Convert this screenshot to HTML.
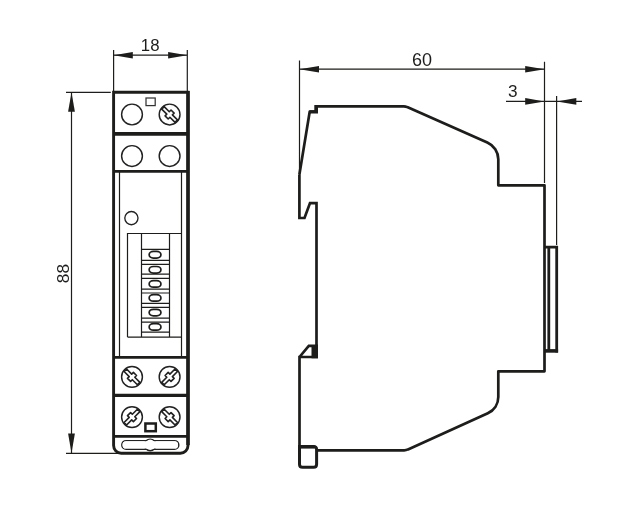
<!DOCTYPE html>
<html>
<head>
<meta charset="utf-8">
<title>Dimensions</title>
<style>
html,body{margin:0;padding:0;background:#fff;}
body{width:634px;height:528px;overflow:hidden;font-family:"Liberation Sans",sans-serif;}
svg{display:block;}
text{font-family:"Liberation Sans",sans-serif;font-size:18px;fill:#1d1d1b;}
svg{will-change:transform;}
.k{stroke:#1d1d1b;fill:none;}
.t{stroke:#1d1d1b;stroke-width:1.2;fill:none;}
.m{stroke:#222;stroke-width:1.45;fill:none;}
.a{fill:#1d1d1b;stroke:none;}
</style>
</head>
<body>
<svg width="634" height="528" viewBox="0 0 634 528">
<defs>
  <g id="screw">
    <circle r="10.4" class="m"/>
    <path class="m" style="stroke-width:1.6;stroke-linejoin:round" d="M-9.4,-1.75 L-2.2,-1.75 L-2.2,-4.2 L2.2,-4.2 L2.2,-1.75 L9.4,-1.75 L9.4,1.75 L2.2,1.75 L2.2,4.2 L-2.2,4.2 L-2.2,1.75 L-9.4,1.75 Z" transform="rotate(45)"/>
  </g>
  <g id="screw2">
    <circle r="10.4" class="m"/>
    <path class="m" style="stroke-width:1.6;stroke-linejoin:round" d="M-9.4,-1.75 L-2.2,-1.75 L-2.2,-4.2 L2.2,-4.2 L2.2,-1.75 L9.4,-1.75 L9.4,1.75 L2.2,1.75 L2.2,4.2 L-2.2,4.2 L-2.2,1.75 L-9.4,1.75 Z" transform="rotate(-45)"/>
  </g>
</defs>
<rect width="634" height="528" fill="#fff"/>

<!-- ===== FRONT VIEW ===== -->
<!-- outer body -->
<path class="k" stroke-width="2.9" d="M113.6,92.3 H188 V445.6 A7.6,7.6 0 0 1 180.4,453.2 H121.2 A7.6,7.6 0 0 1 113.6,445.6 Z"/>
<path class="k" stroke-width="3.5" d="M188,91 V445"/>
<!-- dividers -->
<path class="k" stroke-width="3.6" d="M113.6,133.9 H188"/>
<path class="k" stroke-width="2.8" d="M113.6,171.4 H188"/>
<path class="k" stroke-width="2.8" d="M113.6,357.3 H188"/>
<path class="k" stroke-width="3.2" d="M113.6,395.3 H188"/>
<path class="k" stroke-width="2.7" d="M113.6,436.4 H188"/>
<!-- inner thin lines -->
<path class="t" d="M119.5,172 V357 M181.5,172 V357"/>
<!-- top terminals -->
<circle cx="132" cy="114.5" r="10.4" class="m"/>
<use href="#screw" x="169.6" y="114.5"/>
<rect x="146" y="98" width="9.2" height="7.6" class="m" style="stroke-width:1.25;stroke:#333"/>
<circle cx="132" cy="156" r="10.4" class="m"/>
<circle cx="169.6" cy="156" r="10.4" class="m"/>
<!-- small circle -->
<circle cx="131.4" cy="218.1" r="6.6" class="m" style="stroke-width:1.35"/>
<!-- DIP switch -->
<path class="t" d="M127.5,337.1 V233.5 H181.5 M127.5,337.1 H181.5 M141.5,233.5 V337.1 M169.5,233.5 V337.1"/>
<g class="t">
<path d="M141.5,249.4 H169.5 M141.5,260.4 H169.5"/>
<path d="M141.5,264.4 H169.5 M141.5,274.2 H169.5"/>
<path d="M141.5,278.4 H169.5 M141.5,289.2 H169.5"/>
<path d="M141.5,293.0 H169.5 M141.5,303.3 H169.5"/>
<path d="M141.5,307.4 H169.5 M141.5,318.1 H169.5"/>
<path d="M141.5,322.2 H169.5 M141.5,332.1 H169.5"/>
</g>
<g class="k" stroke-width="1.7">
<rect x="149.15" y="251.45" width="11.8" height="6.6" rx="4.2" ry="3.3"/>
<rect x="149.15" y="266.50" width="11.8" height="6.6" rx="4.2" ry="3.3"/>
<rect x="149.15" y="280.60" width="11.8" height="6.6" rx="4.2" ry="3.3"/>
<rect x="149.15" y="294.60" width="11.8" height="6.6" rx="4.2" ry="3.3"/>
<rect x="149.15" y="309.30" width="11.8" height="6.6" rx="4.2" ry="3.3"/>
<rect x="149.15" y="323.60" width="11.8" height="6.6" rx="4.2" ry="3.3"/>
</g>
<!-- bottom terminals -->
<use href="#screw" x="132" y="376.9"/>
<use href="#screw2" x="169.6" y="376.9"/>
<use href="#screw2" x="132" y="417.1"/>
<use href="#screw" x="169.6" y="417.1"/>
<rect x="145.4" y="423.5" width="10.4" height="7.7" class="k" stroke-width="2.5"/>
<!-- bottom slot -->
<rect x="121.8" y="440.6" width="57" height="8.7" rx="4.35" ry="4.35" class="m" style="stroke-width:1.45"/>
<circle cx="150.2" cy="444.9" r="5.8" class="m" style="stroke-width:1.45"/>
<rect x="122.5" y="441.3" width="55.6" height="7.3" rx="3.65" ry="3.65" fill="#fff"/>
<circle cx="150.2" cy="444.9" r="5.1" fill="#fff"/>

<!-- dim 18 -->
<path class="t" d="M113.6,50 V91 M187.3,50 V91 M113.6,55.2 H187.3"/>
<path class="a" d="M113.6,55.2 L132.8,51.9 V58.5 Z"/>
<path class="a" d="M187.3,55.2 L168.1,51.9 V58.5 Z"/>
<text x="150.2" y="51.3" text-anchor="middle" style="font-size:16.8px">18</text>

<!-- dim 88 -->
<path class="t" d="M66,92.3 H110.8 M66,453.4 H118 M71.5,92.3 V453.4"/>
<path class="a" d="M71.5,92.2 L68.1,111.8 H74.9 Z"/>
<path class="a" d="M71.5,453.3 L68.1,433.6 H74.9 Z"/>
<text transform="translate(68.6,273.6) rotate(-90)" text-anchor="middle" style="font-size:17.4px">88</text>

<!-- ===== SIDE VIEW ===== -->
<path class="k" stroke-width="2.7" stroke-linejoin="round" d="M299.4,174.5 L309.7,111.7 H316.4 V106.3 H403.8 Q405.6,106.3 407.2,107.1 L487.3,142.4 A18.4,18.4 0 0 1 498.3,159.2 V185.3 H544.5 V371.3 H498.3 V397.1 A17.8,17.8 0 0 1 487.8,413.3 L408,449.4 Q406.2,450.3 404.2,450.3 H318"/>
<path class="k" stroke-width="2.7" stroke-linejoin="miter" d="M299.4,174.5 V218 H304.5 L310,203.1 H316.5 V345.5"/>
<path class="a" d="M314.3,105 H318 V113.5 H309.2 L309.6,110.3 H314.3 Z"/>
<!-- lower-left notch -->
<path class="k" stroke-width="2.7" stroke-linejoin="miter" d="M299.5,357 L308.8,345.8 H316.6 V357 H299.5 V446"/>
<rect x="311.5" y="345" width="6.5" height="13.3" class="a"/>
<!-- foot -->
<path class="k" stroke-width="3" d="M299.5,446.6 H313.6 Q316.6,446.6 316.6,449.6 V464.3 Q316.6,467.3 313.6,467.3 H302.5 Q299.5,467.3 299.5,464.3 Z"/>
<path class="k" stroke-width="3.6" d="M299.5,446.8 H314.5"/>
<!-- clip -->
<path class="k" stroke-width="2.8" d="M544.5,247.1 H556.7 V352.6 M548.8,248 V350"/>
<path class="k" stroke-width="3.6" d="M544.5,350.9 H558.1"/>

<!-- dim 60 -->
<path class="t" d="M299.5,60.5 V175 M544.5,61.8 V183 M299.5,69.2 H544.5"/>
<path class="a" d="M299.5,69.2 L319,65.9 V72.5 Z"/>
<path class="a" d="M544.5,69.2 L525.2,65.9 V72.5 Z"/>
<text x="422" y="65.8" text-anchor="middle">60</text>

<!-- dim 3 -->
<path class="t" d="M556.6,96 V245 M506,101.4 H582"/>
<path class="a" d="M544.5,101.4 L525.2,98.1 V104.7 Z"/>
<path class="a" d="M556.8,101.4 L576.3,98.1 V104.7 Z"/>
<text x="512.8" y="97.4" text-anchor="middle" style="font-size:17.2px">3</text>
</svg>
</body>
</html>
